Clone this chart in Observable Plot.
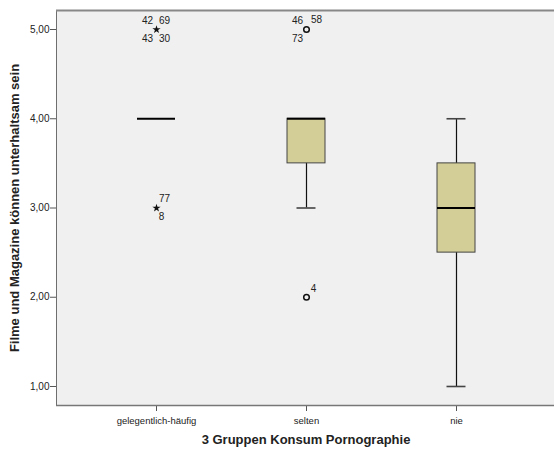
<!DOCTYPE html>
<html>
<head>
<meta charset="utf-8">
<script src="https://cdn.jsdelivr.net/npm/d3@7"></script>
<script src="https://cdn.jsdelivr.net/npm/@observablehq/plot@0.6"></script>
<style>
html, body { margin: 0; padding: 0; background: #fff; overflow: hidden; }
#chart svg { display: block; max-width: none !important; }
#chart [aria-label="y-axis label"], #chart [aria-label="x-axis label"] { font-weight: bold; font-size: 13px; }
</style>
</head>
<body>
<div id="chart"></div>
<script>
// Categories and box statistics
const groups = ["gelegentlich-häufig", "selten", "nie"];
const q1 = [4, 3.5, 2.5];
const median = [4, 4, 3];
const q3 = [4, 4, 3.5];
const whiskerLow = [4, 3, 1];
const whiskerHigh = [4, 4, 4];

// Outliers (circle) and extremes (star)
const outlierGroup = ["gelegentlich-häufig", "gelegentlich-häufig", "selten", "selten"];
const outlierValue = [5, 3, 5, 2];
const outlierType = ["extreme", "extreme", "outlier", "outlier"];

// Case labels next to outliers
const labelGroup = ["gelegentlich-häufig", "gelegentlich-häufig", "gelegentlich-häufig", "gelegentlich-häufig", "gelegentlich-häufig", "gelegentlich-häufig", "selten", "selten", "selten", "selten"];
const labelValue = [5, 5, 5, 5, 3, 3, 5, 5, 5, 2];
const labelText = ["42", "69", "43", "30", "77", "8", "46", "58", "73", "4"];
const labelSide = ["nw", "ne", "sw", "se", "ne", "s", "nw", "ne2", "sw", "ne3"];

const yTicks = [1, 2, 3, 4, 5];
const xTitle = "3 Gruppen Konsum Pornographie";
const yTitle = "Filme und Magazine können unterhaltsam sein";

const boxes = groups.map((g, i) => ({g, q1: q1[i], med: median[i], q3: q3[i], lo: whiskerLow[i], hi: whiskerHigh[i]}));
const outliers = outlierGroup.map((g, i) => ({g, v: outlierValue[i], t: outlierType[i]}));
const labels = labelGroup.map((g, i) => ({g, v: labelValue[i], text: labelText[i], side: labelSide[i]}));
// label placement around markers (styling)
const offsets = {nw: [-9, -9], ne: [8, -9], ne2: [10, -10], ne3: [7, -8], sw: [-9, 9], se: [8, 9], s: [5, 9]};

const fmt = d => d.toFixed(2).replace(".", ",");

const labelMarks = Object.entries(offsets).map(([side, [dx, dy]]) =>
  Plot.text(labels.filter(d => d.side === side), {x: "g", y: "v", text: "text", fontSize: 10, fill: "#222",
    dx, dy, textAnchor: "middle"}));

const chart = Plot.plot({
  width: 556,
  height: 450,
  marginLeft: 56,
  marginRight: 1,
  marginTop: 10,
  marginBottom: 45,
  style: {fontFamily: "'Liberation Sans', Arial, sans-serif", fontSize: "10px", color: "#222", background: "#fff"},
  x: {type: "band", domain: groups, paddingInner: 0.7475, paddingOuter: 0.5316},
  y: {domain: [0.787, 5.213]},
  marks: [
    Plot.frame({fill: "#f0f0f0", stroke: "#6e6e6e", strokeWidth: 1}),
    // whiskers
    Plot.ruleX(boxes, {x: "g", y1: "lo", y2: "hi", stroke: "#111", strokeWidth: 1.2}),
    // caps
    Plot.tickY(boxes.filter(d => d.lo < d.q1), {x: "g", y: "lo", stroke: "#444", strokeWidth: 1.6, insetLeft: 9.5, insetRight: 9.5}),
    Plot.tickY(boxes.filter(d => d.hi > d.q3), {x: "g", y: "hi", stroke: "#444", strokeWidth: 1.6, insetLeft: 9.5, insetRight: 9.5}),
    // boxes
    Plot.barY(boxes.filter(d => d.q3 > d.q1), {x: "g", y1: "q1", y2: "q3", fill: "#d3ce97", stroke: "#444", strokeWidth: 1}),
    // medians
    Plot.tickY(boxes, {x: "g", y: "med", stroke: "#000", strokeWidth: 2}),
    // outliers
    Plot.dot(outliers.filter(d => d.t === "outlier"), {x: "g", y: "v", r: 2.8, stroke: "#111", strokeWidth: 1.5, fill: "none"}),
    Plot.dot(outliers.filter(d => d.t === "extreme"), {x: "g", y: "v", r: 2.6, symbol: "star", fill: "#111", stroke: "none"}),
    ...labelMarks,
    Plot.axisY({ticks: yTicks, tickFormat: fmt, tickSize: 6, tickPadding: 1, stroke: "#555",
      label: yTitle, labelAnchor: "center", labelArrow: "none", labelOffset: 47, fontSize: 10}),
    Plot.axisX({tickSize: 6, tickPadding: 6, stroke: "#555", fontSize: 9.5,
      label: xTitle, labelAnchor: "center", labelArrow: "none", labelOffset: 38}),
    Plot.ruleY([0.787], {stroke: "#777", strokeWidth: 1.5}),
    Plot.ruleY([5.213], {stroke: "#888", strokeWidth: 2})
  ]
});
document.getElementById("chart").appendChild(chart);
</script>
</body>
</html>
